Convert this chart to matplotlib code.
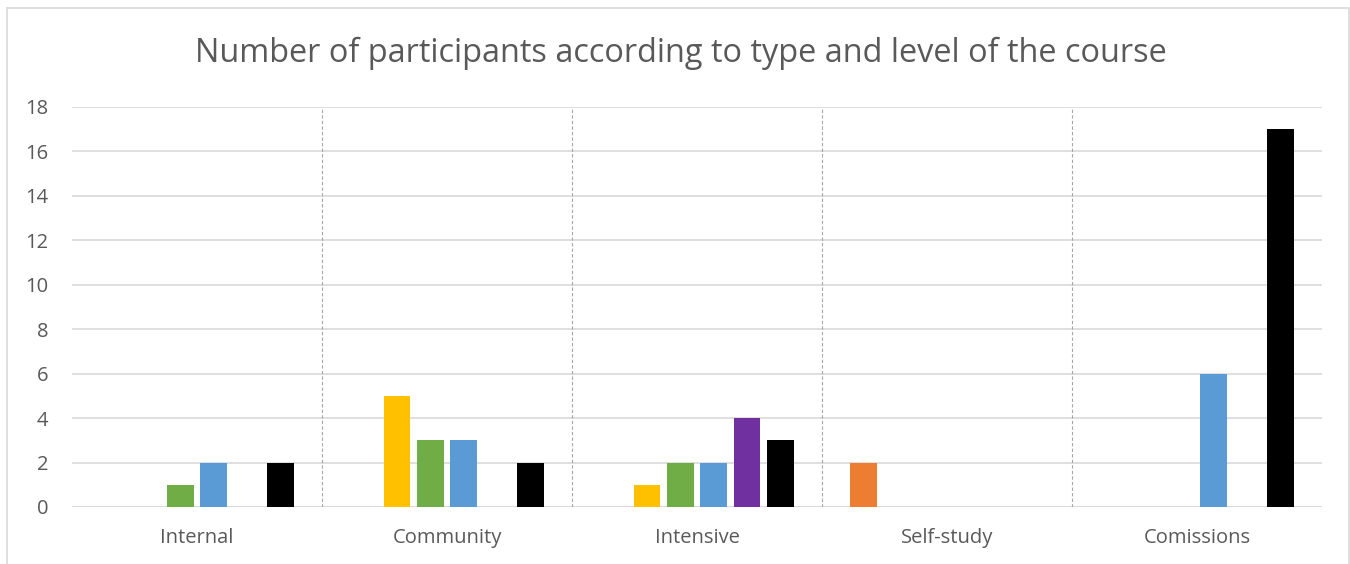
import numpy as np
import matplotlib
matplotlib.use("Agg")
import matplotlib.pyplot as plt
from matplotlib.patches import Rectangle

categories = ["Internal", "Community", "Intensive", "Self-study", "Comissions"]
series_colors = ["#ED7D31", "#FFC000", "#70AD47", "#5B9BD5", "#7030A0", "#000000"]
orange = [0, 0, 0, 2, 0]
yellow = [0, 5, 1, 0, 0]
green = [1, 3, 2, 0, 0]
blue = [2, 3, 2, 0, 6]
purple = [0, 0, 4, 0, 0]
black = [2, 2, 3, 0, 17]
yticks = [0, 2, 4, 6, 8, 10, 12, 14, 16, 18]

plt.rcParams['font.family'] = ['Open Sans', 'DejaVu Sans']

fig = plt.figure(figsize=(13.5, 5.64), dpi=100)
ax = fig.add_axes([72 / 1350, 1 - 507 / 564, 1250 / 1350, 400 / 564])

series = [orange, yellow, green, blue, purple, black]
x = np.arange(len(categories))
step = 0.1335
width = 0.106
for i, (vals, col) in enumerate(zip(series, series_colors)):
    ax.bar(x + (i - 2.5) * step, vals, width=width, color=col, zorder=3)

ax.set_xlim(-0.5, len(categories) - 0.5)
ax.set_ylim(0, 18)
ax.set_yticks(yticks)
ax.set_xticks(x)
ax.set_xticklabels(categories)
ax.tick_params(axis='both', length=0, colors="#595959", labelsize=14.5)
ax.tick_params(axis='x', pad=15)
ax.tick_params(axis='y', pad=17)
ax.grid(axis='y', color="#D9D9D9", linewidth=1.2, zorder=0)
for s in ax.spines.values():
    s.set_visible(False)
ax.axhline(0, color="#D9D9D9", linewidth=1.2, zorder=1)

# dashed separators between categories
for b in x[:-1] + 0.5:
    ax.plot([b, b], [0, 18], color="#A6A6A6", linestyle=(0, (3, 2)),
            linewidth=0.8, zorder=2)

fig.text(0.504, 1 - 53 / 564, "Number of participants according to type and level of the course",
         ha='center', va='center', fontsize=23.4, color="#595959")

fig.patches.append(Rectangle((7 / 1350, -0.01), 1342 / 1350, 1 - 8 / 564 + 0.01,
                             transform=fig.transFigure, fill=False,
                             edgecolor="#D9D9D9", linewidth=1.2))

fig.savefig("out.png", dpi=100)
